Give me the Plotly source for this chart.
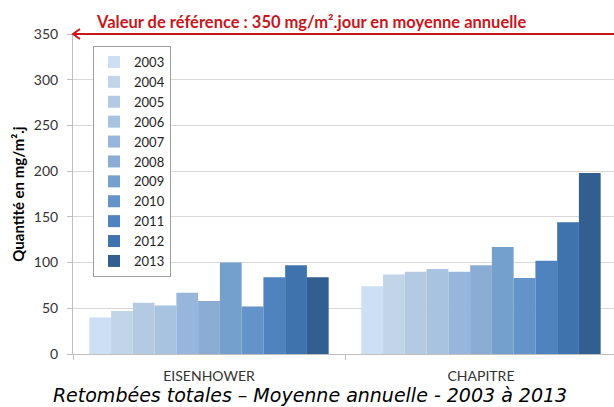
import plotly.graph_objects as go

# ---- data ----
sites = ["EISENHOWER", "CHAPITRE"]
years = ["2003", "2004", "2005", "2006", "2007", "2008", "2009", "2010", "2011", "2012", "2013"]
eisenhower = [40, 47, 56, 53, 67, 58, 100, 52, 84, 97, 84]
chapitre = [74, 87, 90, 93, 90, 97, 117, 83, 102, 144, 198]
colors = ["#cddff4", "#c2d4e8", "#b4cae3", "#a8c3df", "#98b6db", "#8badd4",
          "#73a0cc", "#6393c9", "#4f83bf", "#3f73ae", "#335f90"]
y_ticks = [0, 50, 100, 150, 200, 250, 300, 350]
REF_VALUE = 350
Y_MAX = 350

ref_text = "Valeur de référence : 350 mg/m².jour en moyenne annuelle"
y_title = "Quantité en mg/m².j"
chart_title = "Retombées totales – Moyenne annuelle - 2003 à 2013"

RED = "#c8161d"
BASE_FONT = "Lato, 'Open Sans', sans-serif"

fig = go.Figure()
for i, yr in enumerate(years):
    fig.add_trace(go.Bar(
        x=sites, y=[eisenhower[i], chapitre[i]], name=yr,
        marker=dict(color=colors[i], line=dict(width=0)),
    ))

ref_paper = (REF_VALUE - 0) / (Y_MAX - 0)

fig.update_layout(
    width=614, height=407,
    margin=dict(l=73, r=0, t=34, b=53),
    paper_bgcolor="white", plot_bgcolor="white",
    barmode="group", bargap=0.12, bargroupgap=0,
    font=dict(family=BASE_FONT, size=14, color="#333333"),
    showlegend=True,
    legend=dict(
        x=0.037, y=0.9625, xanchor="left", yanchor="top",
        bgcolor="white", bordercolor="#a0a0a0", borderwidth=1,
        font=dict(family=BASE_FONT, size=13, color="#222222"),
        itemwidth=30, traceorder="normal",
    ),
    xaxis=dict(
        range=[-0.5, 1.489], showgrid=False,
        showline=True, linecolor="#bfbfbf", linewidth=1,
        ticks="outside", tickson="boundaries", ticklen=5, tickcolor="#bfbfbf",
        tickfont=dict(family=BASE_FONT, size=14, color="#333333"),
        ticklabelstandoff=9,
    ),
    yaxis=dict(
        range=[0, Y_MAX], tickvals=y_ticks,
        showgrid=True, gridcolor="#d9d9d9", gridwidth=1,
        showline=True, linecolor="#bfbfbf", linewidth=1,
        ticks="outside", ticklen=5, tickcolor="#bfbfbf",
        tickfont=dict(family=BASE_FONT, size=14, color="#333333"),
        ticklabelstandoff=6,
        zeroline=False,
        title=dict(text=y_title, standoff=5,
                   font=dict(family=BASE_FONT, size=15, color="#000000", weight="bold")),
    ),
    title=dict(
        text=chart_title, x=0.505, xanchor="center",
        y=1 - 395.5 / 407, yref="container", yanchor="middle",
        font=dict(family="'DejaVu Sans', sans-serif", size=19,
                  color="#000000", style="italic"),
    ),
)

# reference arrow line and head
fig.add_shape(type="line", xref="paper", yref="paper",
              x0=0, x1=1, y0=ref_paper, y1=ref_paper,
              line=dict(color=RED, width=2))
fig.add_shape(type="path", xref="paper", yref="paper",
              xsizemode="pixel", ysizemode="pixel", xanchor=0, yanchor=ref_paper,
              path="M 7,5 L 0,0 L 7,-5",
              line=dict(color=RED, width=2))

fig.add_annotation(
    text=ref_text, xref="paper", yref="paper",
    x=(94 - 73) / 541, y=ref_paper, xanchor="left", yanchor="middle", yshift=12,
    showarrow=False,
    font=dict(family=BASE_FONT, size=16.5, color=RED, weight="bold"),
)

fig.write_html("out.html", config={"displayModeBar": False},
               post_script="document.body.style.margin='0';")
